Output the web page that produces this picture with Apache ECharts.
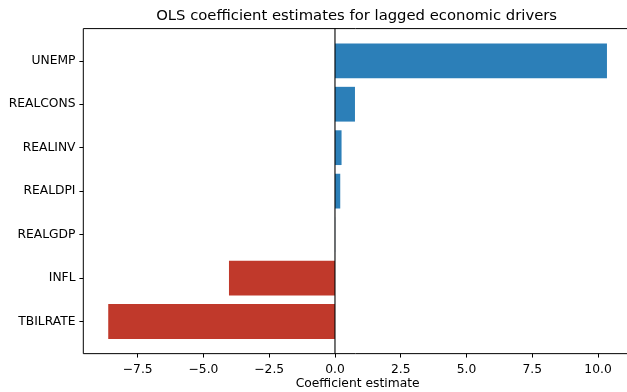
<!DOCTYPE html>
<html>
<head>
<meta charset="utf-8">
<script src="https://cdn.jsdelivr.net/npm/echarts@6/dist/echarts.min.js"></script>
<style>
  html, body { margin: 0; padding: 0; background: #fff; }
  #chart { width: 627px; height: 392px; }
</style>
</head>
<body>
<div id="chart"></div>
<script>
// Lagged driver names, listed top to bottom
const categories = ['UNEMP', 'REALCONS', 'REALINV', 'REALDPI', 'REALGDP', 'INFL', 'TBILRATE'];
// OLS coefficient estimates, same order
const coefficients = [10.34, 0.76, 0.25, 0.20, 0.005, -4.03, -8.62];
// Tick values on the coefficient axis
const xTicks = [-7.5, -5.0, -2.5, 0.0, 2.5, 5.0, 7.5, 10.0];

const POS = '#2c7fb8';
const NEG = '#c0392b';
const FONT = 'DejaVu Sans';
const TICK_FS = 12.3;
const TITLE_FS = 14.8;

// Axis range with 5% padding around the data, like the usual autoscale
const dMin = Math.min(...coefficients), dMax = Math.max(...coefficients);
const pad = (dMax - dMin) * 0.05;
const xMin = dMin - pad, xMax = dMax + pad;

const fmt = v => v.toFixed(1).replace('-', '\u2212');

// Category bands: bars fill 80% of each band; the frame adds 0.34 band of margin
const frameTop = 28.6, frameBottom = 353.65;
const nCat = categories.length;
const span = nCat - 0.2 + 0.68;           // total range in band units
const band = (frameBottom - frameTop) / span;
const bandsTop = frameTop + 0.24 * band;  // outer edge of the first band
const bandsBottom = frameBottom - 0.24 * band;

// Plot frame runs a little past the right edge of the canvas
const gridLeft = 83.3, gridWidth = 548.6;

const chart = echarts.init(document.getElementById('chart'), null, { renderer: 'canvas' });
chart.setOption({
  animation: false,
  backgroundColor: '#fff',
  title: {
    text: 'OLS coefficient estimates for lagged economic drivers',
    left: gridLeft + gridWidth / 2 - 1,
    textAlign: 'center',
    top: 8.5,
    padding: 0,
    textStyle: { fontFamily: FONT, fontSize: TITLE_FS, fontWeight: 'normal', color: '#000' }
  },
  grid: [
    // frame: spines, coefficient axis, zero line
    { left: gridLeft, width: gridWidth, top: frameTop, height: frameBottom - frameTop,
      outerBoundsMode: 'none', containLabel: false,
      show: true, borderColor: '#000', borderWidth: 1, backgroundColor: 'transparent' },
    // bars with their category bands
    { left: gridLeft, width: gridWidth, top: bandsTop, height: bandsBottom - bandsTop,
      outerBoundsMode: 'none', containLabel: false }
  ],
  xAxis: [
    {
      type: 'value', gridIndex: 0, min: xMin, max: xMax,
      name: 'Coefficient estimate', nameLocation: 'middle', nameGap: 24,
      nameMoveOverlap: false,
      nameTextStyle: { fontFamily: FONT, fontSize: TICK_FS, color: '#000' },
      axisLine: { show: false, onZero: false },
      axisTick: { show: true, length: 3.9, inside: false, customValues: xTicks,
                  lineStyle: { color: '#000', width: 1 } },
      axisLabel: { show: true, customValues: xTicks, margin: 10.5, formatter: fmt,
                   fontFamily: FONT, fontSize: TICK_FS, color: '#000' },
      splitLine: { show: false }
    },
    {
      type: 'value', gridIndex: 1, min: xMin, max: xMax, show: false,
      axisLine: { onZero: false },
      splitLine: { show: false }
    }
  ],
  yAxis: [
    { type: 'value', gridIndex: 0, min: 0, max: 1, show: false,
      axisLine: { onZero: false }, splitLine: { show: false } },
    {
      type: 'category', gridIndex: 1, data: categories, inverse: true,
      axisLine: { show: false, onZero: false },
      axisTick: { show: true, length: 3.9, alignWithLabel: true, lineStyle: { color: '#000', width: 1 } },
      axisLabel: { margin: 7.8, fontFamily: FONT, fontSize: TICK_FS, color: '#000' },
      splitLine: { show: false }
    }
  ],
  series: [
    {
      type: 'bar', xAxisIndex: 1, yAxisIndex: 1,
      barWidth: '80%',
      data: coefficients.map(v => ({ value: v, itemStyle: { color: v >= 0 ? POS : NEG } })),
      silent: true
    },
    {
      // vertical reference line at zero, spanning the full frame height
      type: 'line', xAxisIndex: 0, yAxisIndex: 0,
      data: [[0, 0], [0, 1]], symbol: 'none',
      lineStyle: { color: '#000', width: 1.1 }, silent: true, z: 5
    }
  ]
});
</script>
</body>
</html>
